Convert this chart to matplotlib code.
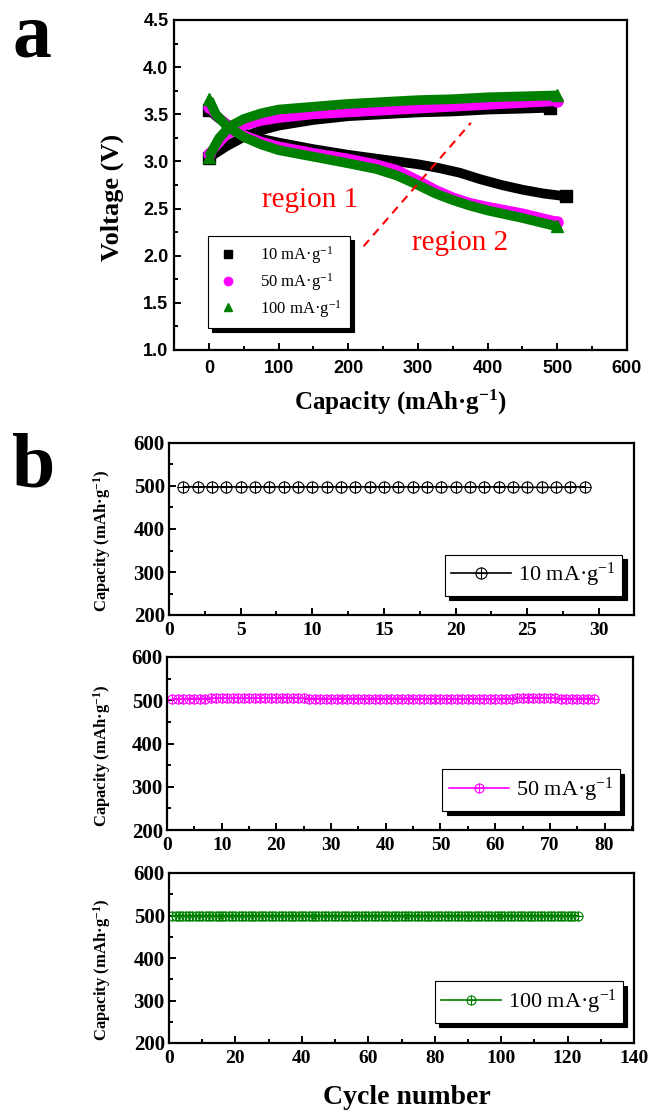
import matplotlib
matplotlib.use("Agg")
import matplotlib.pyplot as plt
from matplotlib.ticker import MultipleLocator
from matplotlib.legend_handler import HandlerTuple

plt.rcParams['font.family'] = 'Liberation Serif'
plt.rcParams['font.weight'] = 'bold'
plt.rcParams['mathtext.default'] = 'regular'

# ---- panel a: charge / discharge curves ----
cap_10_chg = [0, 25, 50, 75, 100, 150, 200, 250, 300, 350, 400, 450, 490]
volt_10_chg = [3.04, 3.16, 3.26, 3.33, 3.38, 3.44, 3.48, 3.50, 3.52, 3.53, 3.55, 3.56, 3.57]
cap_50_chg = [0, 25, 50, 75, 100, 150, 200, 250, 300, 350, 400, 450, 500]
volt_50_chg = [3.08, 3.28, 3.38, 3.43, 3.46, 3.50, 3.52, 3.54, 3.56, 3.58, 3.60, 3.62, 3.64]
cap_100_chg = [0, 15, 30, 50, 75, 100, 150, 200, 250, 300, 350, 400, 450, 500]
volt_100_chg = [3.05, 3.25, 3.37, 3.45, 3.51, 3.55, 3.58, 3.61, 3.63, 3.65, 3.66, 3.68, 3.69, 3.70]

cap_10_dis = [0, 12, 25, 50, 75, 100, 150, 200, 250, 300, 330, 360, 390, 420, 450, 480, 512]
volt_10_dis = [3.55, 3.47, 3.40, 3.30, 3.24, 3.20, 3.13, 3.07, 3.02, 2.97, 2.93, 2.88,
               2.81, 2.75, 2.70, 2.66, 2.63]
cap_50_dis = [0, 12, 25, 50, 75, 100, 150, 200, 240, 270, 300, 325, 350, 375, 400, 450, 500]
volt_50_dis = [3.58, 3.48, 3.40, 3.28, 3.21, 3.16, 3.09, 3.03, 2.97, 2.91, 2.80, 2.70,
               2.62, 2.56, 2.52, 2.45, 2.36]
cap_100_dis = [0, 10, 25, 50, 75, 100, 150, 200, 240, 270, 300, 325, 350, 375, 400, 450, 500]
volt_100_dis = [3.66, 3.50, 3.38, 3.26, 3.18, 3.12, 3.05, 2.98, 2.92, 2.85, 2.75, 2.66,
                2.59, 2.53, 2.48, 2.40, 2.31]

rate_labels = ['10 mA·g$^{-1}$', '50 mA·g$^{-1}$', '100 mA·g$^{-1}$']

# ---- panel b: cycling ----
cyc_10 = list(range(1, 30))
capy_10 = [498, 498, 498, 498, 498, 498, 498, 498, 498, 498, 498, 498, 498, 498, 498,
           498, 498, 498, 498, 498, 498, 498, 498, 498, 497, 497, 497, 498, 498]
cyc_50 = list(range(1, 79))
capy_50 = [503, 503, 503, 503, 504, 504, 504, 505, 505, 505, 505, 505, 505, 505, 505,
           505, 505, 505, 505, 505, 506, 506, 505, 505, 505, 504, 504, 504, 504, 504,
           504, 504, 504, 504, 504, 504, 504, 504, 504, 504, 504, 504, 504, 504, 504,
           503, 503, 503, 503, 503, 503, 503, 503, 503, 503, 503, 503, 503, 503, 503,
           503, 504, 504, 505, 505, 506, 506, 506, 505, 505, 505, 504, 504, 504, 504,
           504, 504, 504]
cyc_100 = list(range(1, 124))
capy_100 = [500, 500, 500, 500, 500, 500, 500, 500, 500, 500, 500, 500, 500, 500, 500,
            500, 500, 500, 500, 500, 500, 500, 500, 500, 500, 500, 500, 500, 500, 500,
            500, 500, 500, 500, 500, 500, 500, 500, 500, 500, 500, 500, 500, 500, 500,
            500, 500, 500, 500, 500, 499, 500, 500, 500, 499, 500, 500, 500, 500, 500,
            500, 500, 500, 500, 500, 500, 500, 500, 500, 500, 500, 500, 500, 500, 500,
            500, 500, 500, 500, 500, 500, 500, 500, 500, 500, 500, 500, 500, 500, 500,
            500, 500, 500, 500, 500, 500, 500, 500, 500, 500, 500, 500, 500, 500, 500,
            500, 500, 500, 500, 500, 500, 500, 500, 500, 500, 500, 500, 500, 500, 500,
            500, 500, 500]

W, H = 649, 1113
fig = plt.figure(figsize=(W / 100, H / 100), dpi=100)


def px_axes(l, t, r, b):
    return fig.add_axes([l / W, 1 - b / H, (r - l) / W, (b - t) / H])


def style_axes(ax, lw=1.6):
    for s in ax.spines.values():
        s.set_linewidth(lw)
    ax.tick_params(which='both', direction='in', top=False, right=False, width=1.4)
    ax.tick_params(which='major', length=5)
    ax.tick_params(which='minor', length=3)


# panel a
ax = px_axes(174, 20, 627, 350)
style_axes(ax)
colors = ['black', 'magenta', 'green']
markers = ['s', 'o', '^']
chg = [(cap_10_chg, volt_10_chg), (cap_50_chg, volt_50_chg), (cap_100_chg, volt_100_chg)]
dis = [(cap_10_dis, volt_10_dis), (cap_50_dis, volt_50_dis), (cap_100_dis, volt_100_dis)]
handles = []
for i in range(3):
    for x, y in (chg[i], dis[i]):
        ax.plot(x, y, color=colors[i], lw=7, solid_capstyle='butt',
                solid_joinstyle='round', zorder=2 + i)
        ax.plot([x[0], x[-1]], [y[0], y[-1]], ls='none', marker=markers[i],
                color=colors[i], ms=8, zorder=2 + i)
    h, = ax.plot([], [], ls='none', marker=markers[i], color=colors[i], ms=6)
    handles.append(h)

ax.plot([222, 376], [2.10, 3.41], color='red', lw=1.5, ls=(0, (4, 3)), zorder=6)
ax.text(145, 2.59, 'region 1', color='red', fontsize=21, fontweight='normal',
        ha='center', va='center')
ax.text(360, 2.13, 'region 2', color='red', fontsize=21, fontweight='normal',
        ha='center', va='center')

ax.set_xlim(-50, 600)
ax.set_ylim(1.0, 4.5)
ax.xaxis.set_major_locator(MultipleLocator(100))
ax.xaxis.set_minor_locator(MultipleLocator(50))
ax.yaxis.set_major_locator(MultipleLocator(0.5))
ax.yaxis.set_minor_locator(MultipleLocator(0.25))
ax.yaxis.set_major_formatter(plt.FormatStrFormatter('%.1f'))
ax.tick_params(axis='x', pad=7)
ax.tick_params(axis='y', pad=4)
for lbl in ax.get_xticklabels() + ax.get_yticklabels():
    lbl.set_fontfamily('Liberation Sans')
    lbl.set_fontweight('bold')
    lbl.set_fontsize(13)

leg = ax.legend(handles, rate_labels, loc='lower left', bbox_to_anchor=(0.075, 0.067),
                borderaxespad=0, fancybox=False, edgecolor='black', framealpha=1,
                prop={'family': 'Liberation Serif', 'weight': 'normal', 'size': 12},
                handlelength=1.4, handletextpad=1.2, labelspacing=0.3, borderpad=0.5,
                shadow={'color': 'black', 'alpha': 1, 'ox': 3, 'oy': -3})
leg.get_frame().set_linewidth(0.8)

fig.text(400 / W, 1 - 402 / H, 'Capacity (mAh·g$^{-1}$)', fontsize=18,
         ha='center', va='center')
fig.text(112 / W, 1 - 197 / H, 'Voltage (V)', fontsize=19, rotation=90,
         ha='center', va='center')
fig.text(32 / W, 1 - 38 / H, 'a', fontsize=56, ha='center', va='center')
fig.text(34 / W, 1 - 468 / H, 'b', fontsize=56, ha='center', va='center')

# panel b
b_boxes = [(169, 443, 634, 615), (167, 657, 633, 830), (169, 873, 634, 1043)]
b_x = [cyc_10, cyc_50, cyc_100]
b_y = [capy_10, capy_50, capy_100]
b_col = ['black', 'magenta', 'green']
b_xlim = [32.45, 85.2, 140]
b_major = [5, 10, 20]
b_ms = [8, 6.5, 6.5]
b_leg_anchor = [(0.975, 0.11), (0.972, 0.11), (0.977, 0.118)]
for i in range(3):
    l, t, r, b = b_boxes[i]
    bx = px_axes(l, t, r, b)
    style_axes(bx)
    l1, = bx.plot(b_x[i], b_y[i], color=b_col[i], lw=1.2, marker='o', mfc='none',
                  mec=b_col[i], ms=b_ms[i], mew=0.8)
    l2, = bx.plot(b_x[i], b_y[i], ls='none', color=b_col[i], marker='+',
                  ms=b_ms[i], mew=0.8)
    bx.set_xlim(0, b_xlim[i])
    bx.set_ylim(200, 600)
    bx.xaxis.set_major_locator(MultipleLocator(b_major[i]))
    bx.xaxis.set_minor_locator(MultipleLocator(b_major[i] / 2))
    bx.yaxis.set_major_locator(MultipleLocator(100))
    bx.yaxis.set_minor_locator(MultipleLocator(50))
    bx.tick_params(axis='x', pad=5, labelsize=14)
    bx.tick_params(axis='y', pad=3, labelsize=15)
    lg = bx.legend([(l1, l2)], [rate_labels[i]], handler_map={tuple: HandlerTuple(ndivide=1)},
                   loc='lower right', bbox_to_anchor=b_leg_anchor[i], borderaxespad=0,
                   fancybox=False, edgecolor='black', framealpha=1,
                   prop={'family': 'Liberation Serif', 'weight': 'normal', 'size': 16},
                   handlelength=2.7, handletextpad=0.3, borderpad=0.3,
                   shadow={'color': 'black', 'alpha': 1, 'ox': 3, 'oy': -3})
    lg.get_frame().set_linewidth(0.8)
    fig.text(102 / W, 1 - ((t + b) / 2 + 12) / H, 'Capacity (mAh·g$^{-1}$)', fontsize=12,
             rotation=90, ha='center', va='center')

fig.text(407 / W, 1 - 1098 / H, 'Cycle number', fontsize=20, ha='center', va='center')

fig.savefig('out.png', dpi=100)
